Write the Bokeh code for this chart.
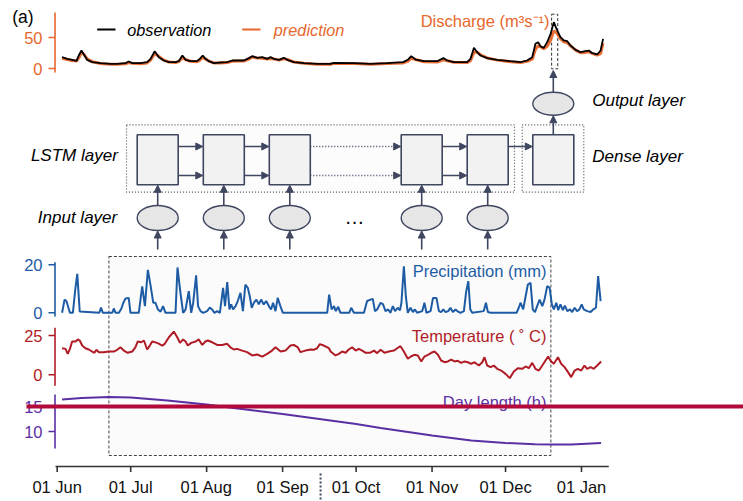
from bokeh.plotting import figure
from bokeh.models import Range1d, ColumnDataSource, Arrow, NormalHead
from bokeh.embed import file_html
from bokeh.resources import INLINE
from bokeh.core.properties import value

# ---------------- data ----------------
# days are counted from 01 Jun
obs_day = [2.0, 4.1, 6.1, 7.9, 8.8, 9.9, 10.9, 12.2, 14.3, 17.7, 21.8, 24.5, 27.9, 29.2, 30.6, 34.0, 36.7, 38.1,
           39.8, 41.5, 43.5, 45.6, 48.3, 49.6, 51.1, 52.4, 54.4, 57.1, 58.2, 59.4, 60.5, 61.9, 63.9, 66.6, 69.4,
           71.4, 73.5, 76.2, 78.2, 79.6, 81.6, 83.7, 85.7, 87.1, 88.4, 90.5, 92.5, 93.9, 96.6, 100.7, 106.1,
           111.5, 112.9, 121.1, 127.9, 134.7, 141.2, 143.1, 144.5, 146.3, 149.7, 155.1, 157.6, 159.2, 161.9,
           167.3, 168.7, 170.1, 171.4, 172.8, 175.5, 179.6, 185.0, 189.1, 191.8, 193.9, 195.2, 196.3, 197.3,
           198.6, 200.0, 201.4, 202.7, 203.8, 205.4, 206.8, 208.2, 209.5, 211.6, 213.6, 215.6, 217.0, 218.4,
           220.4, 221.8, 222.8]
observation = [18.3, 15.6, 14.0, 12.4, 21.0, 29.0, 22.6, 14.0, 10.2, 8.6, 7.5, 7.5, 8.6, 11.3, 8.6, 8.6, 10.2, 15.6,
               27.9, 18.3, 12.9, 10.2, 10.2, 11.8, 21.0, 14.0, 11.8, 11.8, 15.6, 21.0, 15.6, 11.8, 8.6, 9.7, 10.2,
               12.9, 12.9, 12.9, 16.7, 19.9, 17.2, 18.3, 15.6, 18.3, 15.6, 14.0, 17.2, 14.0, 10.2, 8.6, 7.5,
               7.5, 9.1, 8.6, 7.5, 8.6, 10.2, 14.0, 19.9, 14.5, 11.8, 11.8, 16.7, 12.9, 10.2,
               10.2, 15.6, 33.3, 26.3, 21.0, 16.7, 14.0, 11.8, 10.2, 12.9, 18.3, 39.8, 42.5, 35.5,
               33.3, 42.5, 55.9, 74.7, 64.0, 50.5, 45.2, 44.1, 37.1, 30.1, 26.3, 27.9, 29.0, 24.7,
               22.6, 29.0, 47.8]
prediction = [16.5, 14.5, 13.0, 12.0, 17.0, 25.5, 23.0, 15.5, 11.0, 8.0, 7.0, 6.8, 7.5, 9.5, 8.5, 7.5, 9.0, 13.5,
              24.0, 19.5, 13.5, 10.5, 9.5, 11.0, 17.5, 14.5, 11.5, 11.0, 13.5, 17.5, 15.5, 12.0, 9.0, 9.0, 9.5,
              11.5, 12.0, 12.0, 15.0, 18.5, 17.0, 16.5, 15.5, 16.0, 15.5, 13.5, 15.5, 14.5, 10.5, 8.5, 7.0,
              7.0, 8.0, 8.0, 7.0, 8.0, 9.0, 11.5, 16.5, 14.5, 11.0, 10.5, 14.0, 12.5, 10.0,
              9.5, 12.5, 26.0, 26.5, 22.0, 17.0, 13.5, 11.0, 9.5, 11.5, 15.0, 31.0, 37.0, 35.0,
              32.0, 36.0, 46.0, 60.5, 58.0, 48.0, 43.0, 41.5, 36.5, 29.5, 25.5, 26.0, 27.0, 24.5,
              21.5, 24.0, 41.0]

precip_day = [2.0, 3.0, 3.8, 5.2, 6.4, 7.4, 8.2, 9.2, 17.2, 17.9, 18.6, 22.5, 23.1, 23.8, 25.2, 26.2, 27.0, 27.9,
              29.2, 29.9, 33.3, 34.7, 35.8, 37.0, 38.1, 39.2, 40.1, 41.1, 42.2, 43.2, 44.2, 48.3, 49.1, 50.3,
              51.4, 52.4, 53.7, 54.7, 55.5, 56.7, 57.5, 58.5, 59.6, 61.2, 62.3, 63.2, 64.2, 65.3, 66.4, 67.7,
              68.5, 69.4, 70.3, 71.0, 71.8, 72.8, 73.7, 74.8, 75.8, 76.8, 77.8, 78.6, 79.4, 80.3, 81.3, 82.3,
              83.2, 84.3, 85.3, 86.4, 87.3, 88.1, 89.1, 90.0, 91.1, 92.1, 110.2, 111.0, 112.0, 113.0, 113.7,
              114.7, 115.6, 119.2, 120.0, 121.1, 125.2, 126.5, 127.9, 128.8, 129.7, 130.6, 132.0, 133.0, 134.0,
              135.1, 136.0, 137.0, 137.9, 139.0, 139.9, 140.5, 141.5, 142.3, 143.1, 144.2, 145.2, 146.0, 146.9,
              149.0, 149.9, 150.7, 152.4, 153.4, 154.8, 155.8, 156.7, 157.6, 158.5, 159.6, 160.5, 161.5, 162.6,
              163.3, 164.6, 166.0, 166.9, 167.8, 168.6, 169.4, 174.1, 175.0, 175.8, 176.9, 187.5, 188.4, 189.1,
              190.2, 191.2, 192.1, 193.2, 194.1, 195.0, 195.9, 196.9, 198.0, 198.9, 200.0, 201.0, 201.9, 202.7,
              203.7, 204.5, 205.4, 206.4, 207.2, 208.2, 209.3, 210.2, 211.2, 212.2, 213.1, 214.1, 214.9, 216.3,
              217.7, 218.8, 219.9, 220.8, 221.8]
precip_mm = [0, 5.5, 4.8, 0, 0, 10.0, 16.2, 0.5, 0, 2.2, 0, 0, 1.8, 0, 0, 1.8, 4.2, 6.0,
             6.2, 0, 0, 11.0, 2.8, 17.9, 11.4, 4.2, 4.2, 1.4, 0.5, 2.8, 0, 0, 18.9, 8.3,
             0, 1.4, 9.0, 0, 4.2, 15.6, 2.8, 0.7, 0, 0.7, 2.2, 1.4, 0, 0.7, 0, 10.4,
             2.8, 12.8, 1.4, 3.5, 1.4, 2.8, 4.9, 8.3, 0.7, 11.7, 10.4, 6.9, 2.1, 4.2, 5.5, 3.5,
             5.5, 3.5, 4.9, 2.8, 1.4, 4.2, 0.7, 6.2, 2.8, 0, 0, 7.6, 1.4, 2.8, 0.7,
             2.5, 0, 0, 2.1, 0, 0, 4.9, 5.5, 5.8, 0.7, 1.4, 4.2, 3.5, 0.7,
             1.4, 0, 2.8, 0.7, 2.1, 1.0, 4.2, 19.4, 6.9, 0, 2.1, 0.3, 1.4, 0,
             0.7, 4.2, 0, 0.7, 6.2, 6.2, 0.7, 0.3, 1.4, 0.3, 0.7, 2.1, 0.3, 1.4,
             0.7, 0, 0.7, 8.6, 13.2, 1.4, 0, 0.7, 4.2, 0.3, 0, 0, 2.1, 4.2,
             1.4, 6.9, 11.8, 12.5, 1.4, 0.3, 2.8, 5.5, 2.8, 5.5, 11.1, 10.4, 3.5, 1.4,
             4.2, 1.1, 3.5, 1.1, 3.0, 0.7, 1.4, 0.3, 2.1, 0.7, 1.4, 3.5, 1.4, 0.7,
             0.3, 1.4, 2.1, 15.3, 4.9]

temp_day = [2.0, 3.4, 4.3, 5.2, 6.1, 7.5, 8.4, 9.2, 10.2, 11.5, 12.9, 14.3, 15.2, 16.0, 17.0, 19.0, 21.1, 23.1,
            24.5, 25.8, 27.2, 28.8, 30.6, 31.9, 32.9, 34.3, 35.4, 36.7, 37.8, 38.8, 40.8, 42.9, 43.9, 45.6,
            47.6, 49.0, 50.1, 51.4, 52.4, 53.3, 54.7, 56.5, 57.8, 59.2, 60.5, 61.5, 63.3, 65.3, 67.3, 69.4,
            70.7, 72.1, 73.4, 75.5, 77.5, 79.6, 81.6, 83.7, 85.7, 87.7, 89.1, 91.2, 93.2, 95.2, 96.6, 98.2,
            99.3, 101.3, 103.4, 104.7, 106.1, 107.2, 108.8, 110.9, 111.6, 113.6, 115.0, 116.3, 117.7, 119.0,
            120.4, 121.8, 123.1, 124.5, 125.9, 127.6, 129.3, 130.6, 132.0, 133.6, 135.4, 137.4, 138.8, 140.1,
            141.5, 143.1, 144.5, 145.8, 147.2, 148.6, 149.9, 151.3, 152.7, 154.0, 155.4, 156.7, 158.1, 159.5,
            160.8, 162.2, 163.5, 164.9, 166.3, 167.6, 169.0, 170.3, 172.1, 173.5, 174.4, 175.5, 176.9, 178.2,
            179.6, 181.2, 183.0, 184.7, 186.4, 188.0, 189.8, 191.2, 192.5, 193.9, 195.2, 196.6, 198.0, 199.3,
            200.4, 201.6, 202.7, 204.4, 205.7, 207.1, 208.5, 209.8, 211.2, 212.5, 213.9, 215.2, 216.3, 217.7,
            219.0, 220.4, 222.0]
temp_c = [16.9, 16.5, 13.3, 16.5, 21.2, 21.2, 22.5, 21.8, 18.6, 16.9, 16.1, 14.8, 14.0, 15.9, 14.4, 14.4, 14.8, 14.8,
          15.9, 17.5, 15.4, 14.0, 14.8, 17.5, 21.2, 20.7, 21.8, 16.1, 18.6, 21.2, 20.3, 18.6, 19.7, 23.9,
          27.5, 23.9, 20.3, 22.5, 21.2, 18.6, 20.3, 21.2, 22.5, 19.0, 21.2, 21.8, 20.7, 19.0, 19.0, 19.7,
          17.5, 16.1, 16.5, 15.4, 14.4, 12.3, 12.9, 11.6, 13.3, 15.4, 17.5, 14.8, 15.4, 18.6, 19.0, 17.5,
          14.4, 15.4, 16.1, 15.9, 16.9, 19.5, 18.6, 16.9, 14.8, 12.3, 13.3, 14.8, 14.0, 16.1,
          17.5, 15.4, 16.5, 15.4, 14.0, 14.0, 15.4, 13.8, 15.9, 14.0, 14.8, 15.4, 16.9, 18.2,
          14.8, 10.2, 11.8, 12.7, 12.3, 8.5, 11.6, 12.7, 14.0, 14.8, 12.7, 9.1, 8.0, 8.5,
          9.7, 8.5, 8.9, 7.6, 8.5, 8.0, 7.0, 8.0, 5.9, 8.0, 11.2, 5.9, 4.9, 5.9,
          3.8, 2.7, 0.6, -2.1, 2.1, 4.2, 3.8, 5.3, 4.2, 7.6, 3.8, 2.7, 5.9, 9.1,
          11.6, 8.5, 7.0, 11.2, 7.0, 4.9, 1.7, -1.5, 2.7, 3.8, 2.7, 5.9, 3.8, 4.9,
          3.8, 5.9, 8.5]

daylen_day = [2, 10, 21, 30, 45, 61, 72, 92, 107, 122, 132, 153, 169, 183, 195, 202, 210, 222]
daylen_h = [16.4, 16.7, 16.9, 16.8, 16.2, 15.4, 14.7, 13.5, 12.5, 11.5, 10.7, 9.2, 8.2, 7.7, 7.45, 7.4, 7.4, 7.7]

discharge_ticks = [0, 50]
precip_ticks = [0, 20]
temp_ticks = [0, 25]
daylen_ticks = [10, 15]

month_days = [0, 30, 61, 92, 122, 153, 183, 214]
month_labels = ["01 Jun", "01 Jul", "01 Aug", "01 Sep", "01 Oct", "01 Nov", "01 Dec", "01 Jan"]

window_days = (21.1, 201.5)      # input window
target_days = (201.8, 204.3)     # predicted day
split_day = 107.5

# ---------------- layout (page pixels) ----------------
W, H = 743, 501
X0, Y0 = 0, 0
DAY0_PX, PX_PER_DAY = 56.7, 2.45
FONT = value("Liberation Sans")

ORANGE = "#e8672c"
BLUE = "#1d5ca5"
RED = "#b01c26"
PURPLE = "#5b2fa4"
DARK = "#3f4660"

# panels: name -> (page y of value 0, pixels per unit)
panels = {
    "q": (68.0, 0.62),
    "p": (312.3, 2.4),
    "t": (374.3, 1.572),
    "d": (481.0, 5.0),
}
extra_y = {n: Range1d((z - (Y0 + H)) / k, (z - Y0) / k) for n, (z, k) in panels.items()}
days_range = Range1d((X0 - DAY0_PX) / PX_PER_DAY, (X0 + W - DAY0_PX) / PX_PER_DAY)

p = figure(width=W, height=H, output_backend="svg", toolbar_location=None,
           x_range=Range1d(X0, X0 + W), y_range=Range1d(Y0 + H, Y0),
           extra_x_ranges={"days": days_range}, extra_y_ranges=extra_y,
           x_axis_type=None, y_axis_type=None, min_border=0,
           outline_line_color=None, background_fill_color="white")


def txt(x, y, s, color="black", align="left", size="16px", style="normal"):
    p.text(x=[x], y=[y], text=[s], text_color=color, text_align=align, text_baseline="middle",
           text_font=FONT, text_font_size=size, text_font_style=style)


# ---- input window box (behind data) ----
p.quad(left=[window_days[0]], right=[window_days[1]], top=[256], bottom=[455], x_range_name="days",
       fill_color="#fbfbfb", line_color="#444444", line_width=1, line_dash="3 2")

# ---- diagram ----
p.quad(left=[126], right=[514], top=[124.3], bottom=[191.7], fill_color="#fcfcfc",
       line_color="#555555", line_width=1.2, line_dash="1 2")
p.quad(left=[521.7], right=[583.3], top=[124.3], bottom=[191.7], fill_color="#fcfcfc",
       line_color="#555555", line_width=1.2, line_dash="1 2")

cell_x = [157.2, 223.3, 289.3, 421.2, 487.2]
dense_x = 552.8
CW, CH, CY = 41, 50, 159.3
all_cells = cell_x + [dense_x]
p.quad(left=[c - CW / 2 for c in all_cells], right=[c + CW / 2 for c in all_cells],
       top=[CY - CH / 2] * 6, bottom=[CY + CH / 2] * 6,
       fill_color="#f2f2f2", line_color=DARK, line_width=1.6)
EY, EH = 217.5, 25
p.ellipse(x=cell_x, y=[EY] * 5, width=CW, height=EH, fill_color="#e6e6e6", line_color=DARK, line_width=1.4)
OY, OH = 103.3, 23
p.ellipse(x=[dense_x], y=[OY], width=CW, height=OH, fill_color="#e6e6e6", line_color=DARK, line_width=1.4)


def arrows(xs, ys, xe, ye, dash="solid"):
    src = ColumnDataSource(dict(xs=xs, ys=ys, xe=xe, ye=ye))
    p.add_layout(Arrow(x_start="xs", y_start="ys", x_end="xe", y_end="ye", source=src,
                       line_color=DARK, line_width=1.6, line_dash=dash,
                       end=NormalHead(size=7, fill_color=DARK, line_color=DARK, line_width=1)))


ya, yb = 146, 175
pairs = [(0, 1), (1, 2), (3, 4)]
xs, ys, xe, ye = [], [], [], []
for i, j in pairs:
    for yy in (ya, yb):
        xs.append(cell_x[i] + CW / 2); xe.append(cell_x[j] - CW / 2 - 0.5); ys.append(yy); ye.append(yy)
xs.append(cell_x[4] + CW / 2); xe.append(dense_x - CW / 2 - 0.5); ys.append(ya); ye.append(ya)
# vertical arrows
for c in cell_x:
    xs += [c, c]; xe += [c, c]
    ys += [EY - EH / 2, 249]; ye += [CY + CH / 2 + 0.5, EY + EH / 2 + 0.5]
xs += [dense_x, dense_x]; xe += [dense_x, dense_x]
ys += [CY - CH / 2, OY - OH / 2]; ye += [OY + OH / 2 + 0.5, 70]
arrows(xs, ys, xe, ye)
arrows([cell_x[2] + CW / 2] * 2, [ya, yb], [cell_x[3] - CW / 2 - 0.5] * 2, [ya, yb], dash="1 2")

txt(117.3, 155, "LSTM layer", style="italic", align="right", size="17px")
txt(116.7, 216.7, "Input layer", style="italic", align="right", size="17px")
txt(591.7, 100, "Output layer", style="italic", size="17px")
txt(591.7, 155.7, "Dense layer", style="italic", size="17px")
txt(354, 216, "\u2026", size="20px", align="center")

# ---- discharge panel ----
p.quad(left=[target_days[0]], right=[target_days[1]], top=[13.7], bottom=[68.3], x_range_name="days",
       fill_color=None, line_color="#333333", line_width=1, line_dash="3 2")
p.line(obs_day, prediction, x_range_name="days", y_range_name="q", line_color=ORANGE, line_width=3, line_alpha=0.95)
p.line(obs_day, observation, x_range_name="days", y_range_name="q", line_color="black", line_width=1.8)

# ---- meteorological panels ----
p.line(precip_day, precip_mm, x_range_name="days", y_range_name="p", line_color=BLUE, line_width=2)
p.line(temp_day, temp_c, x_range_name="days", y_range_name="t", line_color=RED, line_width=2)
p.line(daylen_day, daylen_h, x_range_name="days", y_range_name="d", line_color=PURPLE, line_width=2)

# ---- y axes ----
AX = 54.5
axes = [("q", ORANGE, discharge_ticks, -6.5, 90.3),
        ("p", BLUE, precip_ticks, -1.5, 21.1),
        ("t", RED, temp_ticks, -7.0, 30.0),
        ("d", PURPLE, daylen_ticks, 6.6, 17.4)]
for name, col, ticks, lo, hi in axes:
    p.segment(x0=[AX], x1=[AX], y0=[lo], y1=[hi], y_range_name=name, line_color=col, line_width=1.6)
    p.segment(x0=[48] * len(ticks), x1=[AX] * len(ticks), y0=ticks, y1=ticks, y_range_name=name,
              line_color=col, line_width=1.6)
    p.text(x=[42] * len(ticks), y=ticks, text=[str(t) for t in ticks], y_range_name=name,
           text_color=col, text_align="right", text_baseline="middle", text_font=FONT,
           text_font_size="16.5px")

# ---- panel titles & legend ----
txt(549, 20.7, "Discharge (m\u00b3s\u207b\u00b9)", color=ORANGE, align="right", size="16.5px")
txt(546, 270, "Precipitation (mm)", color=BLUE, align="right", size="16.5px")
txt(546, 335.7, "Temperature ( \u02da C)", color=RED, align="right", size="16.5px")
txt(546, 401.7, "Day length (h)", color=PURPLE, align="right", size="16.5px")
txt(11.7, 16.7, "(a)", size="17.5px")
p.segment(x0=[96.7], x1=[115], y0=[29], y1=[29], line_color="black", line_width=2)
txt(126.7, 29, "observation", style="italic", size="16.3px")
p.segment(x0=[241.7], x1=[260], y0=[29], y1=[29], line_color=ORANGE, line_width=2)
txt(273.3, 29, "prediction", color=ORANGE, style="italic", size="16.3px")

# ---- time axis ----
p.segment(x0=[(55 - DAY0_PX) / PX_PER_DAY], x1=[(608.3 - DAY0_PX) / PX_PER_DAY], y0=[466], y1=[466],
          x_range_name="days", line_color="#333333", line_width=1.6)
p.segment(x0=month_days, x1=month_days, y0=[466] * len(month_days), y1=[471.5] * len(month_days),
          x_range_name="days", line_color="#333333", line_width=1.6)
p.text(x=month_days, y=[486] * len(month_days), text=month_labels, x_range_name="days",
       text_align="center", text_baseline="middle", text_font=FONT, text_font_size="16.5px",
       text_color="#111111")
p.segment(x0=[split_day], x1=[split_day], y0=[473], y1=[501], x_range_name="days",
          line_color=DARK, line_width=2, line_dash="2 2")

# ---- overlaid red rule ----
p.segment(x0=[26], x1=[X0 + W], y0=[406], y1=[406], line_color="#b20a3b", line_width=4)

open("out.html", "w").write(file_html(p, INLINE))
